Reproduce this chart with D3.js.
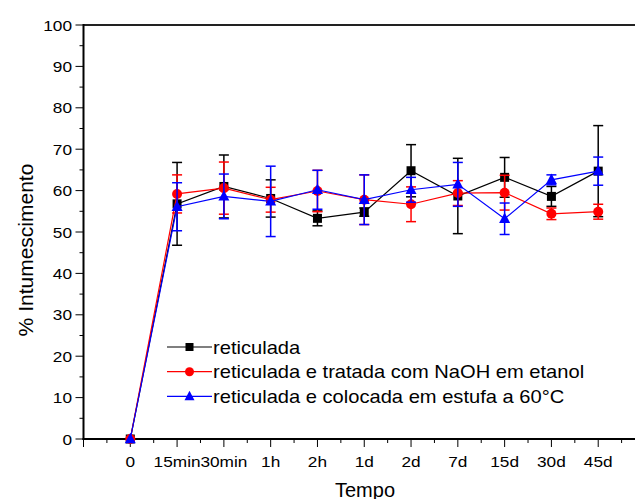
<!DOCTYPE html>
<html>
<head>
<meta charset="utf-8">
<script src="https://cdn.jsdelivr.net/npm/d3@7"></script>
<style>
body { margin: 0; background: #fff; }
text { font-family: "Liberation Sans", Arial, sans-serif; fill: #000; }
</style>
</head>
<body>
<script>
var W = 635, H = 499;

// tempo categories
var tempos = ["0", "15min", "30min", "1h", "2h", "1d", "2d", "7d", "15d", "30d", "45d"];

// % intumescimento (mean) and error
var reticulada = [0, 56.8, 61.0, 58.1, 53.3, 54.8, 64.8, 58.7, 63.2, 58.6, 64.7];
var errReticulada = [0, 10, 7.6, 4.5, 1.8, 1.0, 6.3, 9.1, 4.8, 2.4, 11];
var tratada = [0, 59.2, 60.6, 57.8, 59.9, 57.8, 56.7, 59.4, 59.5, 54.4, 54.9];
var errTratada = [0, 4.6, 6.3, 3.0, 5.0, 6.0, 4.2, 3.0, 4.2, 1.4, 1.8];
var estufa = [0, 56.1, 58.6, 57.4, 60.2, 57.8, 60.2, 61.5, 53.2, 62.6, 64.7];
var errEstufa = [0, 5.8, 5.4, 8.5, 4.7, 6.0, 3.0, 5.3, 3.8, 1.2, 3.4];

var yTicks = [0, 10, 20, 30, 40, 50, 60, 70, 80, 90, 100];

var series = [
  {nome: "reticulada", v: reticulada, e: errReticulada, cor: "#000", forma: "square"},
  {nome: "reticulada e tratada com NaOH em etanol", v: tratada, e: errTratada, cor: "#ff0000", forma: "circle"},
  {nome: "reticulada e colocada em estufa a 60°C", v: estufa, e: errEstufa, cor: "#0000ff", forma: "triangle"}
];

var svg = d3.select("body").append("svg")
  .attr("width", W).attr("height", H);

var x = d3.scaleLinear().domain([-1, 11]).range([83.5, 645]);
var y = d3.scaleLinear().domain([0, 100]).range([439, 25]);

var sx = 1.15; // text in the original is a bit wider than tall

function stretched(g, px, py, txt, size, anchor) {
  return g.append("text")
    .attr("transform", "translate(" + px + "," + py + ") scale(" + sx + ",1)")
    .attr("text-anchor", anchor || "start")
    .style("font-size", size + "px")
    .text(txt);
}

// frame: top line
svg.append("line")
  .attr("x1", x(-1)).attr("x2", x(11))
  .attr("y1", y(100)).attr("y2", y(100))
  .attr("stroke", "#222").attr("stroke-width", 2);

// y axis
var gy = svg.append("g");
gy.append("line")
  .attr("x1", x(-1)).attr("x2", x(-1))
  .attr("y1", y(100) - 1).attr("y2", y(0) + 1)
  .attr("stroke", "#000").attr("stroke-width", 2);
d3.range(0, 101, 5).forEach(function(v) {
  var major = v % 10 === 0;
  gy.append("line")
    .attr("x1", x(-1)).attr("x2", x(-1) - (major ? 8 : 4))
    .attr("y1", y(v)).attr("y2", y(v))
    .attr("stroke", "#000").attr("stroke-width", 1);
});
yTicks.forEach(function(v) {
  stretched(gy, 72, y(v) + 5.5, String(v), 15, "end");
});

// x axis
var gx = svg.append("g");
gx.append("line")
  .attr("x1", x(-1) - 1).attr("x2", x(11))
  .attr("y1", y(0)).attr("y2", y(0))
  .attr("stroke", "#000").attr("stroke-width", 2);
d3.range(-1, 11.01, 0.5).forEach(function(i) {
  var major = i % 1 === 0;
  gx.append("line")
    .attr("x1", x(i)).attr("x2", x(i))
    .attr("y1", y(0)).attr("y2", y(0) + (major ? 8 : 4))
    .attr("stroke", "#000").attr("stroke-width", 1);
});
tempos.forEach(function(t, i) {
  stretched(gx, x(i), 467, t, 15, "middle");
});

// axis titles
svg.append("text")
  .attr("transform", "translate(" + 365 + ",497)")
  .attr("text-anchor", "middle")
  .style("font-size", "20px")
  .text("Tempo");
svg.append("text")
  .attr("transform", "translate(33,250) rotate(-90)")
  .attr("text-anchor", "middle")
  .style("font-size", "21px")
  .text("% Intumescimento");

function marker(g, forma, cx, cy, s, cor) {
  if (forma === "square") {
    g.append("rect").attr("x", cx - s / 2).attr("y", cy - s / 2)
      .attr("width", s).attr("height", s).attr("fill", cor);
  } else if (forma === "circle") {
    g.append("circle").attr("cx", cx).attr("cy", cy).attr("r", s / 2).attr("fill", cor);
  } else {
    var h = s * 0.95;
    g.append("path")
      .attr("d", "M" + cx + "," + (cy - h * 0.6) + "L" + (cx + s / 2) + "," + (cy + h * 0.4) +
        "L" + (cx - s / 2) + "," + (cy + h * 0.4) + "Z")
      .attr("fill", cor);
  }
}

var linha = d3.line()
  .x(function(d, i) { return x(i); })
  .y(function(d) { return y(d); });

series.forEach(function(s) {
  var g = svg.append("g");
  // error bars
  s.v.forEach(function(v, i) {
    if (!s.e[i]) return;
    var top = y(v + s.e[i]), bot = y(v - s.e[i]);
    g.append("line").attr("x1", x(i)).attr("x2", x(i)).attr("y1", top).attr("y2", bot)
      .attr("stroke", s.cor).attr("stroke-width", 1.5);
    [top, bot].forEach(function(yy) {
      g.append("line").attr("x1", x(i) - 5).attr("x2", x(i) + 5).attr("y1", yy).attr("y2", yy)
        .attr("stroke", s.cor).attr("stroke-width", 1.5);
    });
  });
  g.append("path").datum(s.v)
    .attr("d", linha)
    .attr("fill", "none").attr("stroke", s.cor).attr("stroke-width", 1.2);
  s.v.forEach(function(v, i) {
    var tam = s.forma === "square" ? 9 : (s.forma === "circle" ? 10 : 11);
    marker(g, s.forma, x(i), y(v), tam, s.cor);
  });
});

// legend
var lg = svg.append("g");
series.forEach(function(s, k) {
  var ly = 347 + k * 24.7;
  lg.append("line").attr("x1", 167).attr("x2", 212).attr("y1", ly).attr("y2", ly)
    .attr("stroke", s.cor).attr("stroke-width", 1.2);
  var tam = s.forma === "square" ? 8 : (s.forma === "circle" ? 9 : 10);
  marker(lg, s.forma, 189.5, ly, tam, s.cor);
  stretched(lg, 213, ly + 6.5, s.nome, 17.5, "start");
});
</script>
</body>
</html>
